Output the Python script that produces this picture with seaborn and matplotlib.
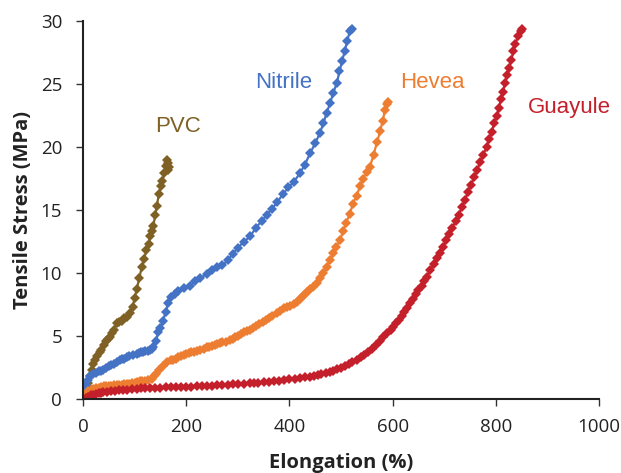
import matplotlib
matplotlib.use("Agg")
import matplotlib.pyplot as plt
import seaborn as sns
import pandas as pd

pvc_x = [0, 3, 5, 8, 10, 14, 17, 20, 24, 28, 32, 35, 40, 45, 48, 52, 56, 60, 65, 70, 75, 80, 85, 91, 96, 100, 104, 109, 114, 118, 123, 127, 130, 133, 136, 140, 143, 147, 151, 154, 157, 160, 162, 164, 166, 165]
pvc_y = [0, 0.4, 0.6, 1.0, 1.3, 1.8, 2.3, 2.8, 3.1, 3.4, 3.7, 3.9, 4.3, 4.6, 4.8, 4.9, 5.2, 5.5, 6.0, 6.1, 6.2, 6.4, 6.5, 6.8, 7.3, 8.0, 8.7, 9.6, 10.5, 11.1, 11.8, 12.3, 12.9, 13.3, 13.7, 14.6, 15.3, 16.3, 16.9, 17.3, 17.9, 18.5, 19.0, 18.7, 18.4, 18.2]

nit_x = [0, 3, 6, 10, 14, 20, 25, 30, 35, 39, 45, 50, 55, 60, 66, 72, 76, 80, 85, 90, 97, 104, 108, 112, 116, 120, 125, 130, 133, 136, 142, 145, 150, 155, 160, 165, 170, 178, 185, 195, 207, 217, 227, 240, 250, 259, 270, 280, 290, 300, 312, 324, 335, 346, 356, 366, 376, 388, 398, 408, 420, 430, 440, 450, 459, 466, 472, 479, 485, 492, 497, 502, 507, 512, 517, 521]
nit_y = [0, 0.6, 1.1, 1.5, 1.8, 2.0, 2.1, 2.2, 2.25, 2.3, 2.45, 2.6, 2.7, 2.8, 2.95, 3.1, 3.15, 3.2, 3.3, 3.4, 3.5, 3.6, 3.65, 3.7, 3.75, 3.8, 3.85, 3.9, 4.0, 4.1, 4.6, 5.3, 5.6, 6.2, 6.9, 7.6, 8.1, 8.3, 8.6, 8.8, 9.0, 9.4, 9.6, 9.9, 10.2, 10.5, 10.6, 11.0, 11.5, 12.0, 12.5, 12.9, 13.6, 14.1, 14.6, 15.1, 15.6, 16.3, 16.8, 17.2, 17.9, 18.6, 19.5, 20.3, 21.1, 21.9, 22.7, 23.5, 24.3, 25.1, 26.0, 26.8, 27.6, 28.4, 29.2, 29.4]

hev_x = [0, 5, 10, 15, 20, 25, 30, 35, 40, 45, 50, 55, 60, 65, 70, 75, 80, 85, 90, 95, 100, 105, 110, 115, 120, 126, 133, 138, 142, 148, 155, 162, 170, 175, 180, 185, 190, 195, 200, 205, 210, 215, 220, 227, 234, 240, 245, 250, 255, 260, 265, 270, 278, 284, 290, 295, 300, 306, 312, 318, 324, 330, 336, 342, 348, 354, 360, 367, 375, 382, 390, 396, 402, 408, 414, 420, 425, 430, 435, 440, 445, 453, 460, 466, 472, 479, 485, 491, 498, 504, 510, 517, 523, 530, 537, 543, 550, 556, 563, 570, 576, 581, 585, 590, 592]
hev_y = [0, 0.4, 0.6, 0.7, 0.8, 0.85, 0.9, 0.95, 1.0, 1.0, 1.0, 1.05, 1.1, 1.1, 1.1, 1.15, 1.2, 1.2, 1.2, 1.25, 1.3, 1.35, 1.4, 1.4, 1.4, 1.5, 1.6, 1.8, 2.0, 2.3, 2.6, 2.9, 3.1, 3.1, 3.2, 3.3, 3.4, 3.5, 3.6, 3.65, 3.7, 3.75, 3.8, 3.9, 4.0, 4.1, 4.15, 4.2, 4.3, 4.4, 4.45, 4.5, 4.5, 4.65, 4.8, 4.9, 5.0, 5.15, 5.3, 5.4, 5.5, 5.65, 5.8, 5.95, 6.1, 6.25, 6.4, 6.6, 6.8, 7.0, 7.2, 7.3, 7.4, 7.55, 7.7, 7.9, 8.1, 8.3, 8.5, 8.7, 8.9, 9.2, 9.6, 10.0, 10.5, 11.0, 11.6, 12.1, 12.6, 13.3, 14.0, 14.7, 15.5, 16.1, 16.9, 17.5, 18.0, 18.4, 19.4, 20.4, 21.3, 22.1, 22.9, 23.4, 23.6]

gua_x = [0, 5, 10, 15, 20, 25, 30, 35, 39, 47, 55, 62, 70, 78, 85, 94, 104, 112, 120, 130, 140, 150, 160, 170, 180, 190, 200, 210, 220, 230, 240, 250, 260, 270, 280, 290, 300, 312, 324, 332, 340, 350, 360, 370, 380, 390, 400, 410, 420, 430, 440, 448, 455, 462, 470, 478, 485, 492, 500, 508, 515, 522, 530, 538, 545, 552, 560, 568, 575, 582, 590, 596, 601, 607, 612, 618, 623, 628, 634, 640, 645, 650, 656, 661, 666, 673, 680, 686, 692, 698, 704, 710, 716, 722, 728, 734, 740, 746, 752, 758, 764, 770, 776, 782, 787, 792, 797, 802, 806, 810, 814, 818, 822, 826, 830, 834, 838, 843, 848, 851]
gua_y = [0, 0.1, 0.2, 0.28, 0.35, 0.4, 0.45, 0.5, 0.55, 0.58, 0.62, 0.66, 0.7, 0.72, 0.75, 0.78, 0.82, 0.84, 0.85, 0.87, 0.88, 0.9, 0.92, 0.93, 0.95, 0.96, 0.97, 0.99, 1.0, 1.02, 1.05, 1.07, 1.1, 1.12, 1.15, 1.17, 1.2, 1.22, 1.25, 1.27, 1.3, 1.34, 1.38, 1.41, 1.45, 1.5, 1.55, 1.6, 1.65, 1.72, 1.78, 1.84, 1.9, 1.97, 2.05, 2.15, 2.25, 2.37, 2.5, 2.65, 2.8, 2.95, 3.1, 3.3, 3.5, 3.75, 4.0, 4.3, 4.6, 4.9, 5.2, 5.45, 5.7, 6.0, 6.3, 6.6, 6.9, 7.25, 7.6, 7.95, 8.3, 8.65, 9.0, 9.35, 9.7, 10.2, 10.7, 11.2, 11.6, 12.1, 12.6, 13.1, 13.6, 14.1, 14.6, 15.2, 15.8, 16.4, 17.0, 17.6, 18.2, 18.8, 19.4, 20.0, 20.6, 21.2, 21.9, 22.5, 23.1, 23.8, 24.4, 25.1, 25.7, 26.3, 26.9, 27.6, 28.2, 28.8, 29.2, 29.4]

series_names = ["PVC", "Nitrile", "Hevea", "Guayule"]
colors = ["#7F6025", "#4472C4", "#ED7D31", "#C4202B"]
label_pos = [(184, 21.6), (388, 25.1), (678, 25.1), (942, 23.1)]

sns.set_theme(style="ticks")
plt.rcParams["font.family"] = ["Open Sans", "DejaVu Sans"]

fig = plt.figure(figsize=(6.21, 4.73), dpi=100)
ax = fig.add_axes([0.1337, 0.1564, 0.8309, 0.7992])

frames = []
for name, xs, ys in zip(series_names, [pvc_x, nit_x, hev_x, gua_x], [pvc_y, nit_y, hev_y, gua_y]):
    frames.append(pd.DataFrame({"Elongation": xs, "Stress": ys, "Material": name}))
df = pd.concat(frames, ignore_index=True)

for name, col in zip(series_names, colors):
    sub = df[df["Material"] == name]
    sns.lineplot(data=sub, x="Elongation", y="Stress", sort=False, estimator=None,
                 color=col, linewidth=1.6, marker="D", markersize=5.5,
                 markeredgewidth=0, ax=ax, legend=False)

for name, col, (tx, ty) in zip(series_names, colors, label_pos):
    ax.text(tx, ty, name, color=col, fontsize=16, ha="center", va="center",
            family=["Liberation Sans", "DejaVu Sans"])

ax.set_xlim(0, 1000)
ax.set_ylim(0, 30)
ax.set_xticks([0, 200, 400, 600, 800, 1000])
ax.set_yticks([0, 5, 10, 15, 20, 25, 30])
ax.set_xlabel("Elongation (%)", fontsize=14.5, fontweight="bold", labelpad=12, color="#222222")
ax.set_ylabel("Tensile Stress (MPa)", fontsize=14.5, fontweight="bold", labelpad=5.5, color="#222222")
ax.tick_params(axis="both", labelsize=13.5, length=5, width=1, colors="#333333", labelcolor="#222222", direction="out")
ax.tick_params(axis="x", pad=9)
ax.tick_params(axis="y", pad=10)
for s in ["top", "right"]:
    ax.spines[s].set_visible(False)
for s in ["left", "bottom"]:
    ax.spines[s].set_color("#222222")
    ax.spines[s].set_linewidth(1.5)
ax.set_facecolor("white")
fig.savefig("out.png", dpi=100, facecolor="white")
